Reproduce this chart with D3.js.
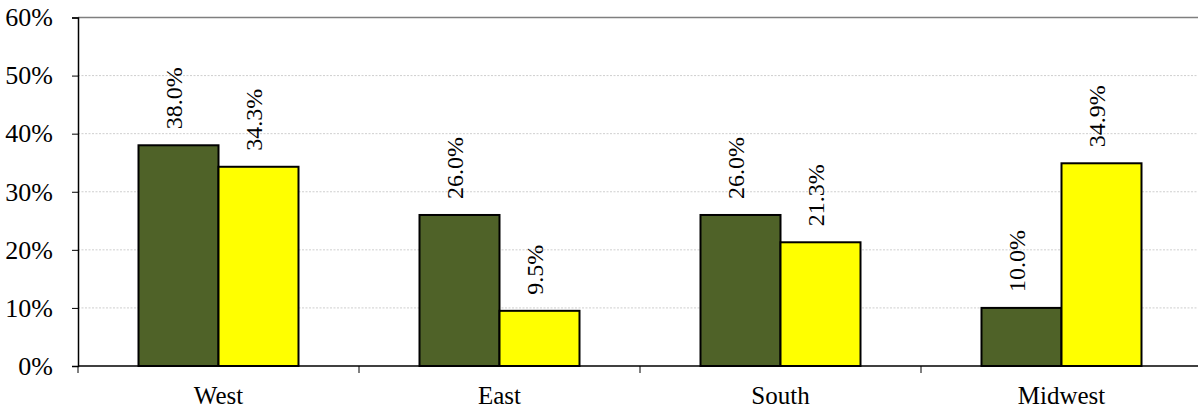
<!DOCTYPE html>
<html>
<head>
<meta charset="utf-8">
<script src="https://cdn.jsdelivr.net/npm/d3@7"></script>
<style>
  body { margin: 0; background: #fff; }
  svg text { font-family: 'Liberation Serif', 'Times New Roman', serif !important; }
</style>
</head>
<body>
<svg id="chart" width="1198" height="409"></svg>
<script>
// Data
const regions = ['West', 'East', 'South', 'Midwest'];
const seriesA = [38.0, 26.0, 26.0, 10.0];
const seriesB = [34.3, 9.5, 21.3, 34.9];
const yTicks = [0, 10, 20, 30, 40, 50, 60];

const svg = d3.select('#chart');
const margin = {left: 78, top: 17.5, right: -4, bottom: 43};
const W = 1198, H = 409;
const width = W - margin.left - margin.right;
const height = H - margin.top - margin.bottom;

const chart = svg.append('g')
    .attr('transform', `translate(${margin.left}, ${margin.top})`);

const x = d3.scaleBand().domain(regions).range([0, width]);
const y = d3.scaleLinear().domain([0, 60]).range([height, 0]);
const barW = 80;

// Grid lines
chart.append('g').selectAll('line')
    .data(yTicks.filter(d => d > 0 && d < 60)).enter().append('line')
    .attr('x1', 0).attr('x2', width)
    .attr('y1', d => y(d)).attr('y2', d => y(d))
    .attr('stroke', '#cfcfcf').attr('stroke-width', 1)
    .attr('stroke-dasharray', '2,1.5');

// top border
chart.append('line')
    .attr('x1', 0).attr('x2', width)
    .attr('y1', y(60)).attr('y2', y(60))
    .attr('stroke', '#7f7f7f').attr('stroke-width', 1.5);

// Bars
const series = [
    {vals: seriesA, color: '#4F6228', off: -barW},
    {vals: seriesB, color: '#FFFF00', off: 0}
];
for (let s of series) {
    const g = chart.append('g');
    g.selectAll('rect')
        .data(regions).enter().append('rect')
        .attr('x', d => x(d) + x.bandwidth() / 2 + s.off)
        .attr('y', (d, i) => y(s.vals[i]))
        .attr('width', barW)
        .attr('height', (d, i) => y(0) - y(s.vals[i]))
        .attr('fill', s.color)
        .attr('stroke', '#000').attr('stroke-width', 2);
    g.selectAll('text')
        .data(regions).enter().append('text')
        .attr('transform', (d, i) => {
            let cx = x(d) + x.bandwidth() / 2 + s.off + barW / 2 + 3;
            let cy = y(s.vals[i]) - 16;
            return `translate(${cx}, ${cy}) rotate(-90)`;
        })
        .attr('text-anchor', 'start')
        .attr('font-size', '24px')
        .attr('fill', '#000')
        .text((d, i) => s.vals[i].toFixed(1) + '%');
}

// Y axis
const yAxis = d3.axisLeft(y).tickValues(yTicks)
    .tickSize(6).tickPadding(19)
    .tickFormat(d => d + '%');
const gy = chart.append('g').call(yAxis);
gy.select('.domain').attr('stroke', '#000').attr('stroke-width', 1.5);
gy.selectAll('.tick line').attr('stroke', '#000').attr('stroke-width', 1);
gy.selectAll('.tick text')
    .attr('font-size', '26px').attr('fill', '#000');

// X axis
const gx = chart.append('g').attr('transform', `translate(0, ${height})`);
gx.append('line')
    .attr('x1', 0).attr('x2', width)
    .attr('stroke', '#000').attr('stroke-width', 1.5);
gx.selectAll('line.tk')
    .data(regions).enter().append('line')
    .attr('class', 'tk')
    .attr('x1', d => x(d)).attr('x2', d => x(d))
    .attr('y1', 0).attr('y2', 7)
    .attr('stroke', '#000').attr('stroke-width', 1);
gx.selectAll('text.lbl')
    .data(regions).enter().append('text')
    .attr('class', 'lbl')
    .attr('x', d => x(d) + x.bandwidth() / 2)
    .attr('y', 38)
    .attr('text-anchor', 'middle')
    .attr('font-size', '25px')
    .attr('fill', '#000')
    .text(d => d);
</script>
</body>
</html>
